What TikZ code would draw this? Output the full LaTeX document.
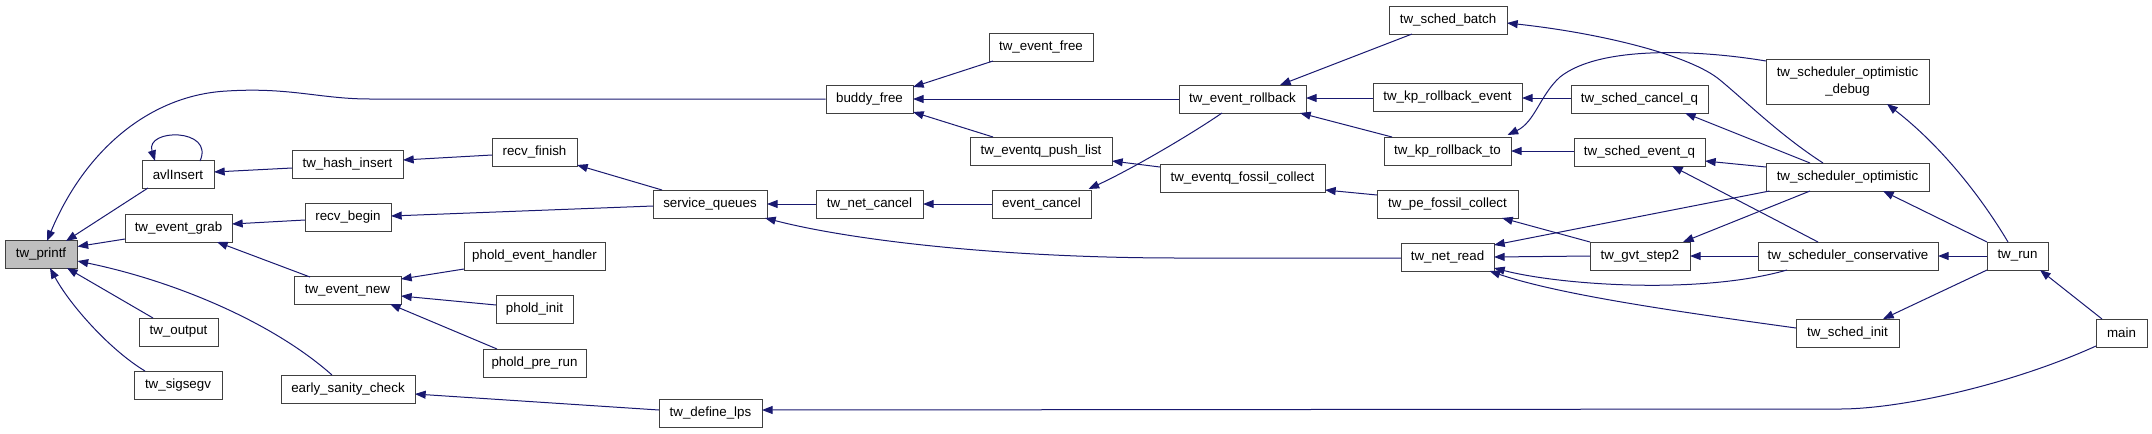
\documentclass[tikz,border=0pt]{standalone}
\usepackage{fontspec}
\setmainfont{Liberation Sans}
\usetikzlibrary{arrows.meta,calc}
\definecolor{mblue}{HTML}{191970}
\definecolor{bord}{HTML}{404040}
\begin{document}
\begin{tikzpicture}[x=0.75pt,y=-0.75pt,
  fn/.style={draw=bord, line width=0.75pt, fill=white, inner sep=0pt, minimum height=21pt, align=center, font=\fontsize{10}{12.75}\selectfont},
  edge/.style={draw=mblue, line width=0.75pt, {Triangle[length=8pt,width=6pt]}-}]
\useasboundingbox (0,0) rectangle (2152,433);
% nodes
\node[fn, fill={rgb,255:red,191;green,191;blue,191}, minimum width=54pt] (printf) at (41,254.5) {tw\_printf};
\node[fn, minimum width=54pt] (avl) at (178,174.5) {avlInsert};
\node[fn, minimum width=80.25pt] (grab) at (178.5,228) {tw\_event\_grab};
\node[fn, minimum width=59.25pt] (output) at (178.5,332) {tw\_output};
\node[fn, minimum width=66pt] (sigsegv) at (178,385) {tw\_sigsegv};
\node[fn, minimum width=83.25pt] (hash) at (347.5,164) {tw\_hash\_insert};
\node[fn, minimum width=64.5pt] (rbegin) at (348,217) {recv\_begin};
\node[fn, minimum width=80.25pt] (enew) at (347.5,290.5) {tw\_event\_new};
\node[fn, minimum width=100.5pt] (early) at (348,389) {early\_sanity\_check};
\node[fn, minimum width=63.75pt] (rfinish) at (534.5,152) {recv\_finish};
\node[fn, minimum width=85.5pt] (squeues) at (710,204) {service\_queues};
\node[fn, minimum width=105.75pt] (peh) at (534.5,256) {phold\_event\_handler};
\node[fn, minimum width=57.75pt] (pinit) at (534.5,309) {phold\_init};
\node[fn, minimum width=77.25pt] (pprerun) at (534.5,363) {phold\_pre\_run};
\node[fn, minimum width=77.25pt] (deflps) at (710.5,413) {tw\_define\_lps};
\node[fn, minimum width=65.25pt] (buddy) at (869.5,99) {buddy\_free};
\node[fn, minimum width=78pt] (efree) at (1041,47) {tw\_event\_free};
\node[fn, minimum width=106.5pt] (pushlist) at (1041,151) {tw\_eventq\_push\_list};
\node[fn, minimum width=80.25pt] (netcancel) at (869.5,204) {tw\_net\_cancel};
\node[fn, minimum width=74.25pt] (ecancel) at (1041.5,204) {event\_cancel};
\node[fn, minimum width=95.25pt] (rollback) at (1242.5,99) {tw\_event\_rollback};
\node[fn, minimum width=123.75pt] (eqfossil) at (1242.5,178) {tw\_eventq\_fossil\_collect};
\node[fn, minimum width=88.5pt] (batch) at (1448,20) {tw\_sched\_batch};
\node[fn, minimum width=111.75pt] (kprbe) at (1447.5,97) {tw\_kp\_rollback\_event};
\node[fn, minimum width=95.25pt] (kprbto) at (1447.5,151) {tw\_kp\_rollback\_to};
\node[fn, minimum width=105.75pt] (pefossil) at (1447.5,204) {tw\_pe\_fossil\_collect};
\node[fn, minimum width=69.75pt] (netread) at (1447.5,257) {tw\_net\_read};
\node[fn, minimum width=102.75pt] (cancelq) at (1639.5,99) {tw\_sched\_cancel\_q};
\node[fn, minimum width=98.25pt] (eventq) at (1639.5,152) {tw\_sched\_event\_q};
\node[fn, minimum width=75pt] (gvt) at (1640,256) {tw\_gvt\_step2};
\node[fn, minimum width=122.25pt, minimum height=33.75pt] (optdbg) at (1847.5,81.5) {tw\_scheduler\_optimistic\\\_debug};
\node[fn, minimum width=122.25pt] (opt) at (1847.5,177) {tw\_scheduler\_optimistic};
\node[fn, minimum width=135pt] (cons) at (1848,256) {tw\_scheduler\_conservative};
\node[fn, minimum width=77.25pt] (schedinit) at (1847.5,333) {tw\_sched\_init};
\node[fn, minimum width=45.75pt] (run) at (2017.5,256) {tw\_run};
\node[fn, minimum width=38.25pt] (main) at (2121.5,333) {main};
% edges (arrow at callee)
\draw[edge] ($(printf)+(6,-13.5)$) .. controls (85,150) and (150,95) .. (227,91) .. controls (290,87) and (320,99) .. (370,99) -- (buddy.west);
\draw[edge] ($(printf)+(25,-13.5)$) -- ($(avl)+(-30,13.5)$);
\draw[edge] ($(printf)+(36.5,-8)$) -- ($(grab)+(-53.5,11)$);
\draw[edge] ($(printf)+(36.5,6.5)$) .. controls (170,280) and (270,320) .. ($(early)+(-16,-14)$);
\draw[edge] ($(printf)+(26,13.5)$) -- ($(output)+(-25.5,-14)$);
\draw[edge] ($(printf)+(9,13.5)$) .. controls (70,305) and (110,350) .. ($(sigsegv)+(-33,-14)$);
\draw[edge] ($(avl)+(-23,-13.5)$) .. controls (145,128) and (215,128) .. ($(avl)+(22,-13.5)$);
\draw[edge] ($(avl)+(36,-2.5)$) -- ($(hash)+(-55.5,4)$);
\draw[edge] ($(hash)+(55.5,-4)$) -- ($(rfinish)+(-42.5,3)$);
\draw[edge] ($(grab)+(53.5,-4)$) -- ($(rbegin)+(-43,3)$);
\draw[edge] ($(grab)+(38.5,14)$) -- ($(enew)+(-37.5,-13.5)$);
\draw[edge] ($(rfinish)+(42.5,13)$) -- ($(squeues)+(-48,-14)$);
\draw[edge] ($(rbegin)+(43,-1)$) -- ($(squeues)+(-57,2)$);
\draw[edge] ($(enew)+(53.5,-11.5)$) -- ($(peh)+(-70.5,13)$);
\draw[edge] ($(enew)+(53.5,5.5)$) -- ($(pinit)+(-38.5,-4)$);
\draw[edge] ($(enew)+(42.5,13.5)$) -- ($(pprerun)+(-37.5,-14)$);
\draw[edge] ($(early)+(67,5)$) -- ($(deflps)+(-51.5,-3)$);
\draw[edge] ($(buddy)+(43.5,-12)$) -- ($(efree)+(-48,14)$);
\draw[edge] ($(buddy)+(43.5,0)$) -- ($(rollback)+(-63.5,0)$);
\draw[edge] ($(buddy)+(43.5,13)$) -- ($(pushlist)+(-48,-14)$);
\draw[edge] ($(squeues)+(57,0)$) -- ($(netcancel)+(-53.5,0)$);
\draw[edge] ($(netcancel)+(53.5,0)$) -- ($(ecancel)+(-49.5,0)$);
\draw[edge] ($(squeues)+(55,14)$) .. controls (850,240) and (1000,258) .. (1180,258) -- ($(netread)+(-46.5,1)$);
\draw[edge] ($(ecancel)+(47,-15)$) .. controls (1130,170) and (1190,135) .. ($(rollback)+(-20.5,14)$);
\draw[edge] ($(pushlist)+(71,10)$) -- ($(eqfossil)+(-82.5,-11)$);
\draw[edge] ($(rollback)+(37.5,-14)$) -- ($(batch)+(-36,14)$);
\draw[edge] ($(rollback)+(63.5,-1)$) -- ($(kprbe)+(-74.5,1)$);
\draw[edge] ($(rollback)+(57.5,14)$) -- ($(kprbto)+(-55.5,-14)$);
\draw[edge] ($(eqfossil)+(82.5,12)$) -- ($(pefossil)+(-70.5,-9)$);
\draw[edge] ($(batch)+(59,3)$) .. controls (1600,33) and (1690,55) .. (1720,80) .. controls (1750,105) and (1780,135) .. ($(opt)+(-24.5,-14)$);
\draw[edge] ($(kprbe)+(74.5,1)$) -- ($(cancelq)+(-68.5,-1)$);
\draw[edge] ($(kprbto)+(63.5,0)$) -- ($(eventq)+(-65.5,-1)$);
\draw[edge] ($(kprbto)+(60,-16)$) .. controls (1535,122) and (1540,95) .. (1560,77) .. controls (1600,45) and (1700,50) .. ($(optdbg)+(-81.5,-20.5)$);
\draw[edge] ($(cancelq)+(45.5,14)$) -- ($(opt)+(-37.5,-14)$);
\draw[edge] ($(eventq)+(65.5,9)$) -- ($(opt)+(-81.5,-10)$);
\draw[edge] ($(netread)+(46.5,-12)$) -- ($(opt)+(-78,14)$);
\draw[edge] ($(eventq)+(32.5,14)$) -- ($(cons)+(-30,-14)$);
\draw[edge] ($(netread)+(46.5,0)$) -- ($(gvt)+(-50,0)$);
\draw[edge] ($(pefossil)+(54.5,14)$) -- ($(gvt)+(-50,-14)$);
\draw[edge] ($(gvt)+(43,-14)$) -- ($(opt)+(-37.5,14)$);
\draw[edge] ($(gvt)+(50,0)$) -- ($(cons)+(-90,0)$);
\draw[edge] ($(netread)+(46.5,11)$) .. controls (1560,285) and (1700,295) .. ($(cons)+(-61,14)$);
\draw[edge] ($(netread)+(42,14)$) .. controls (1560,295) and (1680,312) .. ($(schedinit)+(-51.5,-5)$);
\draw[edge] ($(optdbg)+(39.5,22.5)$) .. controls (1940,145) and (1980,195) .. ($(run)+(-9.5,-14)$);
\draw[edge] ($(opt)+(35.5,14)$) -- ($(run)+(-30.5,-14)$);
\draw[edge] ($(cons)+(90,0)$) -- ($(run)+(-30.5,0)$);
\draw[edge] ($(schedinit)+(35.5,-14)$) -- ($(run)+(-30.5,14)$);
\draw[edge] ($(run)+(22.5,14)$) -- ($(main)+(-19.5,-14)$);
\draw[edge] ($(deflps)+(51.5,-3)$) -- (1840,409) .. controls (1900,409) and (2010,385) .. ($(main)+(-25.5,13)$);
\end{tikzpicture}
\end{document}
